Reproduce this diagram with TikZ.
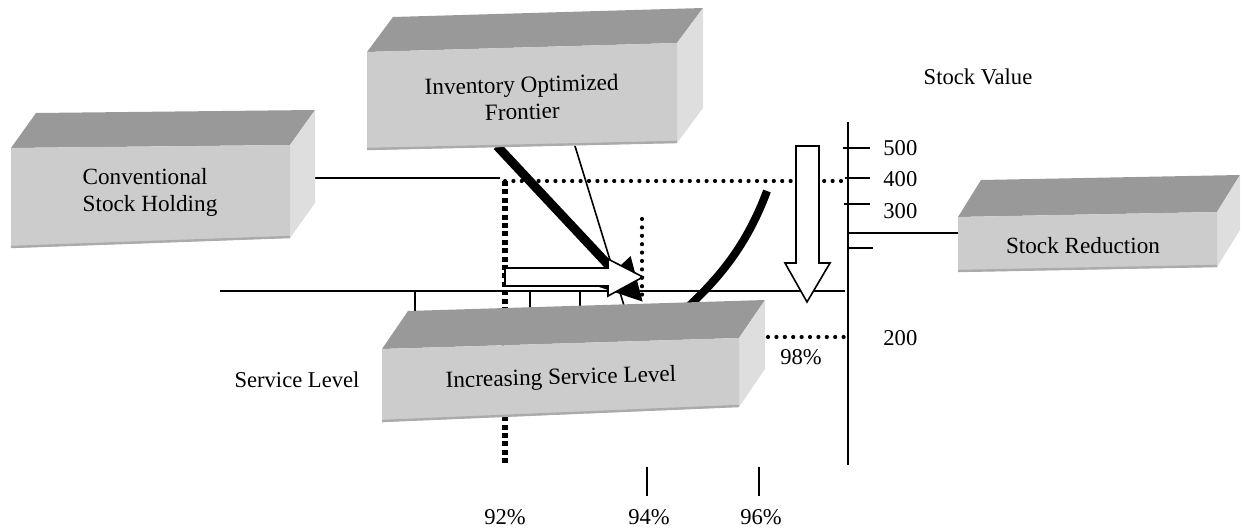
\documentclass[tikz,border=0pt]{standalone}
\usepackage{fontspec}
\setmainfont{Liberation Serif}
\usetikzlibrary{arrows.meta,calc}
\definecolor{topgray}{HTML}{999999}
\definecolor{frontgray}{HTML}{CCCCCC}
\definecolor{sidegray}{HTML}{DEDEDE}
\definecolor{edgegray}{HTML}{ABABAB}
\tikzset{
  every picture/.style={line join=round, >=Stealth},
  axis/.style={line width=1pt},
  roundDots/.style={line width=2.1pt, line cap=round, dash pattern=on 0pt off 4.2pt},
  squareDots/.style={line width=2.6pt, dash pattern=on 2.5pt off 1.7pt},
  hollowArrow/.style={draw, fill=white, line width=0.8pt, line join=miter},
  lbl/.style={font=\fontsize{11.3}{13}\selectfont, inner sep=0pt},
  boxlbl/.style={font=\fontsize{11.6}{13.5}\selectfont, inner sep=0pt, align=center},
}
% front corners TL, TR, BR, BL and the depth offset
\newcommand{\slab}[5]{%
  \fill[topgray] (#1) -- ($(#1)+(#5)$) -- ($(#2)+(#5)$) -- (#2) -- cycle;
  \fill[sidegray] (#2) -- ($(#2)+(#5)$) -- ($(#3)+(#5)$) -- (#3) -- cycle;
  \fill[frontgray] (#1) -- (#2) -- (#3) -- (#4) -- cycle;
  \draw[edgegray, line width=1.2pt] ($(#4)+(0,-1)$) -- ($(#3)+(0,-1)$);
}

\begin{document}
\begin{tikzpicture}[x=0.5pt,y=-0.5pt]
\useasboundingbox (0,0) rectangle (1243,529);

% axes
\coordinate (sl-left) at (220,291);
\coordinate (sl-right) at (845,291);
\coordinate (sv-top) at (848,122);
\coordinate (sv-bot) at (848,465);
\draw[axis] (sl-left) -- (sl-right);
\draw[axis] (sv-top) -- (sv-bot);
\foreach \x in {415,530,580} \draw[axis] (\x,291) -- (\x,312);
\foreach \y/\a/\b in {148/843/870,178/845/870,204/844/870,248/847/873} \draw[axis] (\a,\y) -- (\b,\y);
\foreach \x in {647,759} \draw[axis] (\x,467) -- (\x,496);

% dotted guides
\coordinate (corner) at (505,181);
\draw[roundDots] (corner) -- (848,181);
\draw[squareDots] (corner) -- (505,463);
\draw[roundDots] (768,337) -- (848,337);

% connectors
\coordinate (holding-out) at (315,178);
\coordinate (holding-end) at (500,178);
\coordinate (reduction-in) at (958,233);
\coordinate (reduction-end) at (848,233);
\coordinate (frontier-a) at (497,146);
\coordinate (frontier-b) at (575,146);
\coordinate (frontier-tip) at (643,302);
\draw[axis] (holding-out) -- (holding-end);
\draw[axis] (reduction-end) -- (reduction-in);
\draw[line width=0.8pt] (frontier-b) -- (626,312);
\draw[line width=4.5pt, -{Triangle[length=21pt,width=21pt]}] (frontier-a) -- (frontier-tip);

% frontier curve
\draw[line width=4pt] (767,191) .. controls (745,250) and (715,283) .. (676,318);

% hollow arrows
\draw[hollowArrow] (505,268) -- (608,268) -- (608,259) -- (643,277) -- (608,296) -- (608,286) -- (505,286) -- cycle;
\draw[hollowArrow] (796,146) -- (819,146) -- (819,263) -- (830,263) -- (807,302) -- (785,263) -- (796,263) -- cycle;
\draw[roundDots] (642,219) -- (642,302);

% boxes
\slab{11,148}{290,145}{290,238}{11,248}{25,-35}
\slab{367,52}{677,43}{677,143}{367,150}{26,-35}
\slab{958,217}{1217,212}{1217,267}{958,272}{23,-37}
\slab{382,349}{739,338}{739,407}{382,422}{26,-38}

\node[boxlbl, align=left] (holding) at (150,192) {Conventional\\Stock Holding};
\node[boxlbl, rotate=1.5] (frontier) at (522,98) {Inventory Optimized\\Frontier};
\node[boxlbl] (reduction) at (1083,246) {Stock Reduction};
\node[boxlbl, rotate=1.5] (increasing) at (561,379) {Increasing Service Level};

% labels
\node[lbl] (stockvalue) at (978,77) {Stock Value};
\node[lbl] (servicelevel) at (297,380) {Service Level};
\node[lbl, anchor=west] (v500) at (883,148) {500};
\node[lbl, anchor=west] (v400) at (883,179) {400};
\node[lbl, anchor=west] (v300) at (883,211) {300};
\node[lbl, anchor=west] (v200) at (883,338) {200};
\node[lbl] (p98) at (801,357) {98\%};
\node[lbl] (p92) at (505,517) {92\%};
\node[lbl] (p94) at (649,517) {94\%};
\node[lbl] (p96) at (761,517) {96\%};
\end{tikzpicture}
\end{document}
